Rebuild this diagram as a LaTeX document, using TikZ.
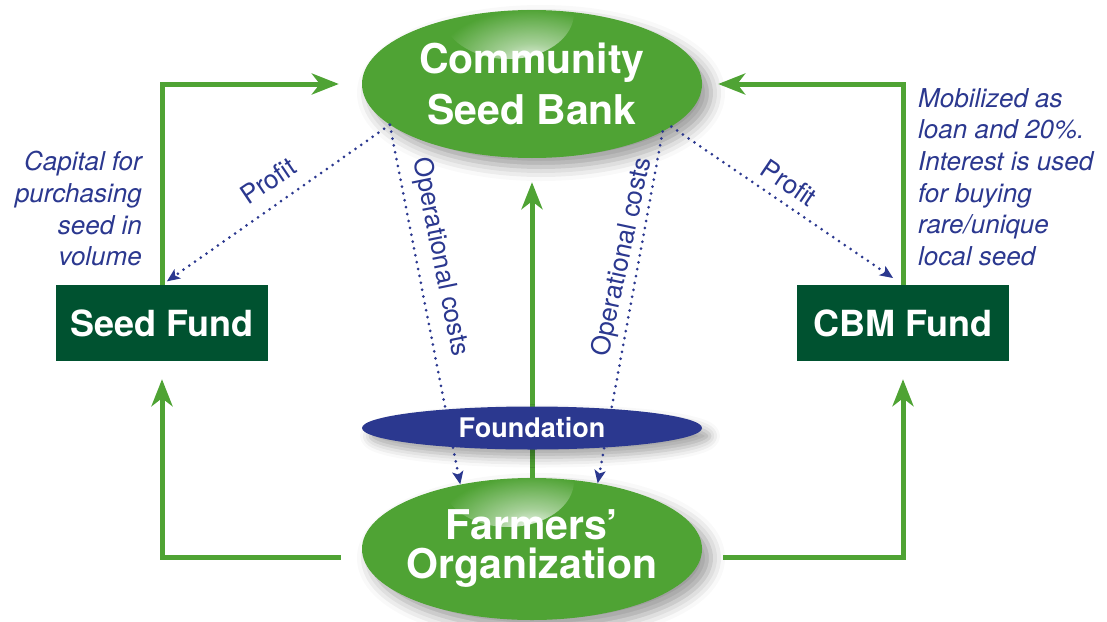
\documentclass[tikz,border=0pt]{standalone}
\usepackage{fontspec}
\setmainfont{TeX Gyre Heros}
\usetikzlibrary{arrows.meta,shapes.geometric,shadows.blur,fadings}
\definecolor{leaf}{RGB}{79,163,52}
\definecolor{fundgreen}{RGB}{0,82,48}
\definecolor{ink}{RGB}{43,56,143}
\pgfdeclareradialshading{glowmask}{\pgfpointorigin}{color(0bp)=(white!92!black); color(5bp)=(white!50!black); color(14bp)=(black); color(50bp)=(black)}
\pgfdeclarefading{glowfade}{\pgfuseshading{glowmask}}
\tikzset{
	bank/.style={ellipse,fill=leaf,minimum width=340pt,minimum height=#1,inner sep=0pt,inner xsep=-15pt,text=white,align=center,
		font=\bfseries\fontsize{41}{39}\selectfont,
		blur shadow={shadow xshift=9pt,shadow yshift=-9pt,shadow blur radius=14pt,shadow opacity=40},
		path picture={\fill[white,path fading=glowfade] ([xshift=-24pt,yshift=-3pt]path picture bounding box.north) ellipse (66pt and 46pt);}},
	fund/.style={rectangle,fill=fundgreen,minimum width=212pt,minimum height=76pt,inner sep=0pt,text=white,
		font=\bfseries\fontsize{36}{40}\selectfont},
	found/.style={ellipse,fill=ink,minimum width=340pt,minimum height=43pt,inner sep=0pt,text=white,
		font=\bfseries\fontsize{27}{30}\selectfont,
		blur shadow={shadow xshift=8pt,shadow yshift=-8pt,shadow blur radius=10pt,shadow opacity=35}},
	note/.style={text=ink,inner sep=0pt,font=\itshape\fontsize{26}{31.7}\selectfont},
	lbl/.style={text=ink,inner sep=0pt,font=\fontsize{26}{30}\selectfont},
	flow/.style={draw=leaf,line width=5pt,-{Stealth[length=27pt,width=21pt,inset=8pt]}},
	cost/.style={draw=ink,line width=3pt,line cap=round,dash pattern=on 0pt off 7pt,-{Stealth[length=13pt,width=11pt,inset=3pt]}}
}
\begin{document}
\begin{tikzpicture}[x=1pt,y=-1pt]
\useasboundingbox (0,0) rectangle (1107,621);
\node[bank=148pt] (csb) at (532,84) {Community\\[10pt]Seed Bank};
\node[bank=142pt] (fo) at (532,549) {Farmers'\\Organization};
\node[fund] (sf) at (162,323) {Seed Fund};
\node[fund] (cf) at (903,323) {CBM Fund};
\foreach \f/\g in {sf/23,cf/16}{
	\draw[flow,shorten >=\g pt] (\f) |- (csb);}
\foreach \f/\a in {sf/west,cf/east}{
	\draw[flow,shorten <=21pt,shorten >=18pt] ([yshift=-8pt]fo.\a) -| (\f);}
\draw[flow,shorten >=24pt] (fo) -- (csb);
\node[found] (fd) at (532,428) {Foundation};
\draw[cost,shorten >=6pt] (csb.196) -- (sf.north);
\draw[cost,shorten >=12pt] (csb.343) -- (cf.north);
\draw[cost] (csb.196) -- (fo.138);
\draw[cost] (csb.340) -- (fo.45);
\node[lbl,rotate=34] (profl) at (268,181) {Profit};
\node[lbl,rotate=-34] (profr) at (789,183) {Profit};
\node[lbl,rotate=-78.5] (opl) at (440,257) {Operational costs};
\node[lbl,rotate=78] (opr) at (623,257) {Operational costs};
\node[note,align=right,anchor=north east] (capnote) at (142,151) {Capital for\\purchasing\\seed in\\volume};
\node[note,align=left,anchor=north west] (loannote) at (918,88) {Mobilized as\\loan and 20\%.\\Interest is used\\for buying\\rare/unique\\local seed};
\end{tikzpicture}
\end{document}
